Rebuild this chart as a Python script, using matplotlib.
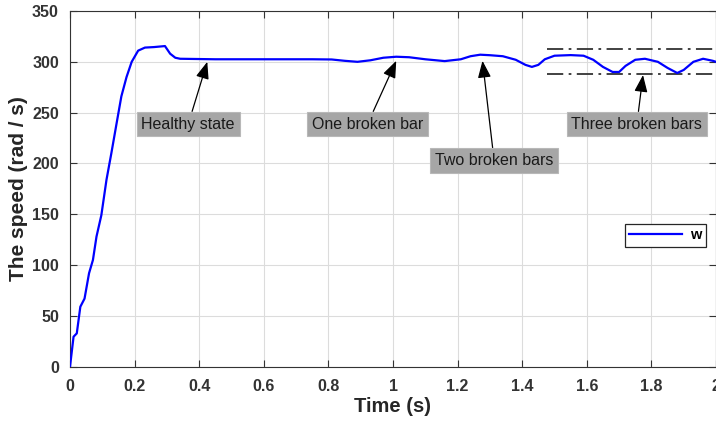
import matplotlib
matplotlib.use("Agg")
import matplotlib.pyplot as plt

plt.rcParams['font.family'] = ['Liberation Sans', 'DejaVu Sans']

# Rotor speed response (rad/s) versus time (s)
time = [0.000, 0.011, 0.021, 0.032, 0.045, 0.059, 0.071, 0.082, 0.097, 0.113,
        0.128, 0.144, 0.159, 0.175, 0.191, 0.211, 0.232, 0.260, 0.294, 0.310,
        0.326, 0.341, 0.450, 0.600, 0.750, 0.810, 0.850, 0.890, 0.930, 0.970,
        1.010, 1.050, 1.100, 1.160, 1.210, 1.240, 1.270, 1.300, 1.340, 1.380,
        1.410, 1.430, 1.450, 1.470, 1.500, 1.550, 1.590, 1.620, 1.650, 1.680,
        1.700, 1.720, 1.750, 1.780, 1.820, 1.850, 1.880, 1.900, 1.930, 1.960,
        1.990, 2.000]
speed = [0.0, 29.5, 32.8, 59.0, 67.0, 92.0, 105.0, 128.0, 149.0, 184.0,
         210.0, 239.0, 266.0, 285.0, 300.0, 311.0, 314.0, 314.5, 315.5, 308.0,
         304.0, 303.0, 302.5, 302.5, 302.5, 302.3, 301.0, 300.0, 301.5, 304.0,
         305.0, 304.5, 302.5, 300.7, 302.5, 305.5, 307.0, 306.5, 305.5, 302.0,
         297.0, 295.0, 297.0, 302.5, 306.0, 306.6, 306.0, 302.0, 295.0, 290.0,
         290.0, 296.0, 302.0, 303.0, 300.0, 294.0, 289.0, 292.0, 300.0, 303.0,
         301.0, 300.0]

# Ripple envelope for the three-broken-bar case
envelope_start = 1.478
envelope_end = 2.0
envelope_upper = 312.5
envelope_lower = 288.0

# Annotation labels: text, arrow target (t, w), label centre (t, w)
labels = ["Healthy state", "One broken bar", "Two broken bars", "Three broken bars"]
targets = [(0.425, 300.0), (1.010, 301.0), (1.277, 301.0), (1.774, 287.0)]
label_pos = [(0.366, 238.7), (0.921, 238.7), (1.313, 203.0), (1.755, 238.7)]

x_ticks = [0, 0.2, 0.4, 0.6, 0.8, 1.0, 1.2, 1.4, 1.6, 1.8, 2.0]
x_tick_labels = ["0", "0.2", "0.4", "0.6", "0.8", "1", "1.2", "1.4", "1.6", "1.8", "2"]
y_ticks = [0, 50, 100, 150, 200, 250, 300, 350]

axis_color = '#333333'

fig = plt.figure(figsize=(7.16, 4.22), dpi=100)
ax = fig.add_axes([70.0 / 716, 1 - 366.7 / 422, (716 - 70.0) / 716, (366.7 - 11) / 422])

ax.plot(time, speed, color='#0000ff', lw=1.6, label='w', zorder=3)

for level in (envelope_upper, envelope_lower):
    ax.plot([envelope_start, envelope_end], [level, level], color='#333333',
            lw=1.3, linestyle=(0, (9, 3, 1.5, 3)), zorder=2)

for text, tgt, pos in zip(labels, targets, label_pos):
    ax.annotate(text, xy=tgt, xytext=pos, ha='center', va='center',
                fontsize=11.5, color='#1a1a1a', zorder=4,
                bbox=dict(boxstyle='square,pad=0.3', facecolor='#a6a6a6',
                          edgecolor='#b8b8b8', lw=0.8),
                arrowprops=dict(arrowstyle='-|>,head_length=0.9,head_width=0.35',
                                color='black', lw=0.9, shrinkA=0, shrinkB=0))

ax.set_xlim(0, 2)
ax.set_ylim(0, 350)
ax.set_xticks(x_ticks)
ax.set_xticklabels(x_tick_labels)
ax.set_yticks(y_ticks)

ax.grid(True, color='#dcdcdc', lw=0.8)
ax.set_axisbelow(True)
ax.tick_params(direction='in', top=True, right=True, length=5, width=0.8,
               colors=axis_color, labelsize=11.5)
ax.tick_params(axis='x', pad=9)
ax.tick_params(axis='y', pad=8)
for lbl in ax.get_xticklabels() + ax.get_yticklabels():
    lbl.set_fontweight('bold')
for sp in ax.spines.values():
    sp.set_color(axis_color)
    sp.set_linewidth(0.8)

ax.set_xlabel('Time (s)', fontsize=14.5, fontweight='bold', color='#262626', labelpad=2)
ax.set_ylabel('The speed (rad / s)', fontsize=15, fontweight='bold', color='#262626', labelpad=3)

leg = ax.legend(loc='center right', bbox_to_anchor=(0.996, 0.369), fancybox=False,
                edgecolor='#262626', framealpha=1, handlelength=3.6,
                borderpad=0.3, handletextpad=0.6,
                prop={'weight': 'bold', 'size': 10.5})
leg.get_frame().set_linewidth(0.9)

fig.savefig('out.png', dpi=100, facecolor='white')
